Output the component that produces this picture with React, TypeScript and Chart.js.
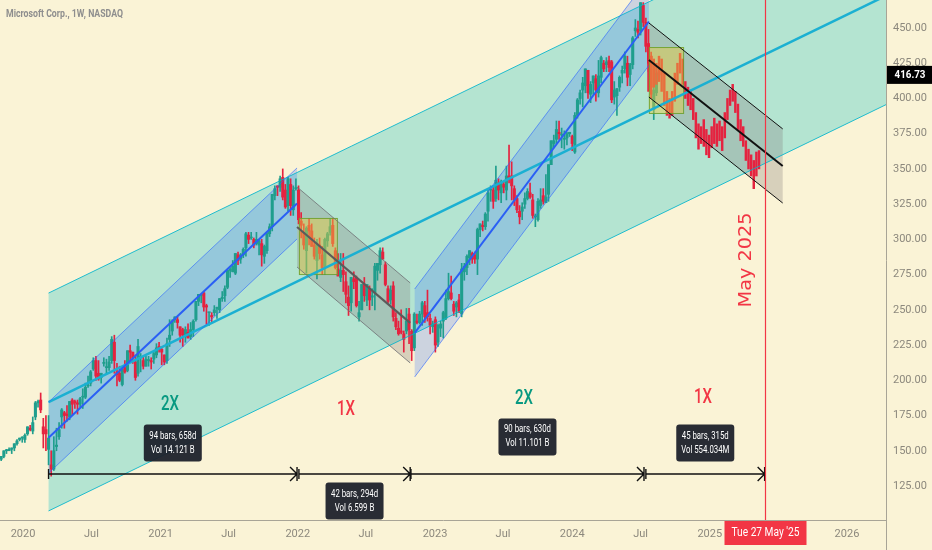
import React, { useEffect, useRef } from "react";
import { Chart, registerables } from "chart.js";
Chart.register(...registerables);

const DAY0 = Date.UTC(2020, 0, 1);
const day = (s: string) => (Date.parse(s + "T00:00:00Z") - DAY0) / 86400000;

// ---------------- data ----------------
const TITLE = "Microsoft Corp., 1W, NASDAQ";
const FIRST_WEEK = "2019-11-04";
// weekly [open, high, low, close]
const W2019 = [[144,146,143,146],[146,150,145,150],[150,151,148,150],[150,152,150,151],[151,152,148,152],[152,155,150,155],[155,158,154,157],[158,159,157,159],[159,160,156,159]];
const W2020 = [[158,162,156,161],[162,167,161,167],[166,168,164,165],[164,174,162,170],[174,185,172,184],[184,186,181,185],[186,191,177,179],[167,173,152,162],[165,175,150,162],[151,175,140,159],[140,150,132,137],[137,160,136,150],[153,166,150,154],[160,170,158,165],[174,180,166,179],[177,178,166,175],[176,182,171,175],[174,185,172,185],[186,187,175,183],[185,186,180,184],[184,186,176,183],[183,188,181,187],[188,194,180,188],[188,198,187,195],[196,203,195,196],[198,207,196,206],[208,216,207,214],[214,217,200,203],[205,214,200,201],[202,205,198,205],[212,216,210,212],[209,215,205,209],[209,217,207,213],[214,231,212,229],[227,232,205,214],[206,212,196,204],[205,210,199,200],[197,209,196,208],[209,214,205,206],[207,221,206,221],[221,225,214,220],[220,220,212,216],[213,218,200,202],[205,229,203,224],[216,219,206,217],[214,217,208,210],[210,217,210,215],[214,217,210,214],[214,216,208,213],[215,221,212,219],[218,226,216,223],[224,227,220,222]];
const W2021 = [[222,223,211,220],[218,218,211,213],[214,230,212,226],[229,243,224,232],[235,243,232,242],[243,245,241,245],[243,245,237,241],[238,238,227,232],[236,237,224,232],[231,238,227,236],[234,240,230,230],[231,241,229,236],[236,243,231,242],[243,256,242,256],[256,261,253,261],[260,261,255,261],[262,263,249,252],[253,254,240,252],[248,248,239,248],[246,248,241,245],[248,253,246,250],[251,252,244,251],[250,258,248,258],[258,263,256,259],[260,267,256,265],[266,278,265,278],[278,280,273,278],[277,285,277,281],[276,290,275,290],[289,291,282,285],[286,290,283,289],[289,294,287,293],[294,305,288,304],[303,305,297,300],[301,305,300,301],[300,301,294,296],[297,305,296,300],[296,300,289,299],[297,300,281,289],[288,296,283,295],[292,305,290,304],[304,311,302,309],[309,332,306,332],[331,338,328,336],[338,338,331,337],[337,345,334,343],[344,350,328,330],[335,339,322,323],[324,344,320,343],[339,343,317,324],[321,338,317,335],[336,343,335,336]];
const W2022 = [[335,338,311,314],[313,319,301,310],[305,311,293,296],[292,309,276,308],[310,315,296,306],[306,311,295,295],[296,301,286,288],[285,300,272,297],[296,301,286,290],[289,295,275,280],[281,301,275,300],[299,305,295,304],[305,315,303,309],[310,315,295,297],[292,294,279,280],[279,290,274,274],[273,290,270,278],[278,290,263,275],[270,277,255,261],[259,267,246,253],[255,273,249,273],[272,277,265,270],[273,274,252,253],[245,256,242,248],[250,268,250,268],[268,273,256,260],[257,268,253,268],[265,267,250,257],[259,265,253,260],[262,283,250,281],[278,283,271,283],[282,294,276,292],[291,294,286,286],[282,284,267,268],[265,267,255,256],[257,267,254,264],[267,270,242,245],[244,248,236,238],[237,242,232,233],[235,250,233,234],[233,235,220,229],[235,251,233,242],[247,251,226,236],[235,236,214,221],[223,248,221,247],[242,247,240,241],[241,249,240,247],[247,256,239,255],[253,256,241,245],[248,264,242,245],[244,247,233,239],[238,242,234,240]];
const W2023 = [[243,245,220,225],[227,240,224,239],[237,242,231,240],[242,249,230,248],[244,264,243,258],[258,276,257,263],[262,274,257,258],[254,256,246,249],[252,256,245,255],[257,261,248,249],[247,283,245,279],[277,283,271,281],[280,289,275,288],[287,292,282,292],[290,291,283,286],[289,291,283,286],[286,308,275,307],[307,311,302,311],[310,313,306,309],[309,319,307,318],[320,335,313,333],[335,338,327,335],[335,337,322,327],[329,352,327,342],[340,343,328,335],[333,342,326,341],[339,341,333,337],[335,352,328,345],[345,367,340,344],[345,355,328,338],[336,338,324,328],[329,331,319,321],[320,324,311,316],[320,326,314,323],[325,333,322,329],[329,336,328,334],[333,340,329,330],[328,332,315,317],[316,318,309,316],[314,329,313,327],[324,336,322,328],[331,336,325,327],[326,346,326,330],[332,353,327,353],[353,370,353,370],[368,374,365,370],[371,384,368,378],[376,384,371,375],[374,379,365,374],[371,377,364,371],[372,376,367,375],[375,376,373,376]];
const W2024 = [[373,374,363,368],[362,390,361,388],[388,400,386,399],[400,406,396,404],[406,415,394,411],[409,421,404,421],[420,420,400,404],[403,412,397,410],[411,416,403,416],[414,417,398,406],[404,427,401,416],[415,430,411,429],[425,427,419,421],[424,429,419,426],[427,430,419,422],[426,427,397,399],[401,412,396,406],[402,407,388,407],[408,416,405,415],[418,423,411,420],[421,433,418,430],[425,430,409,415],[417,425,409,424],[424,444,421,443],[448,456,444,450],[449,455,443,447],[448,468,445,468],[466,468,451,454],[454,457,433,437],[439,449,419,425],[430,433,400,408],[392,408,385,406],[404,421,402,418],[419,425,413,416.73]];
const LAST_PRICE = 416.73;

// projected bars pattern [low, high]
const PROJ_START = "2024-07-22";
const PROJ = [[405,432],[403,430],[408,428],[410,425],[412,430],[405,428],[395,418],[388,405],[386,400],[388,405],[398,418],[410,425],[418,432],[410,428],[400,412],[395,408],[392,406],[385,400],[372,390],[364,382],[368,380],[366,385],[360,378],[358,374],[365,380],[368,386],[366,382],[370,384],[363,380],[372,390],[385,400],[395,406],[398,410],[390,405],[378,396],[370,385],[366,380],[356,370],[350,364],[345,360],[336,356],[345,362],[350,363]];

const Y_TICKS = [125,150,175,200,225,250,275,300,325,350,375,400,425,450];
const X_TICKS = ["2020-01-01","2020-07-01","2021-01-01","2021-07-01","2022-01-01","2022-07-01","2023-01-01","2023-07-01","2024-01-01","2024-07-01","2025-01-01","2025-07-01","2026-01-01"];
const X_TICK_LABELS = ["2020","Jul","2021","Jul","2022","Jul","2023","Jul","2024","Jul","2025","Jul","2026"];

// channels: [startDate, midStart, endDate, midEnd, halfWidth]
const BIG_CHANNEL: [string, number, string, number, number] = ["2020-03-09", 184.6, "2027-01-01", 506.7, 77.3];
const BLUE_CHANNELS: [string, number, string, number, number][] = [["2020-03-09",159.3,"2021-12-30",325.5,25.2],["2022-11-08",233.6,"2024-07-23",454.6,31.2]];
const GRAY_CHANNELS: [string, number, string, number, number][] = [["2021-12-30",308.8,"2022-10-27",240.7,28.4],["2024-07-23",427.3,"2025-07-14",352.1,26.3]];
const YELLOW_BOXES: [string, number, string, number][] = [["2022-01-04",315.2,"2022-04-15",275.4],["2024-07-23",436.5,"2024-10-22",389.7]];

const RANGES = [["2020-03-09","2021-12-30"],["2022-01-04","2022-10-27"],["2022-10-29","2024-07-10"],["2024-07-15","2025-05-27"]];
const RANGE_PRICE = 133.5;
const RANGE_TEXT = [["94 bars, 658d","Vol 14.121 B"],["42 bars, 294d","Vol 6.599 B"],["90 bars, 630d","Vol 11.101 B"],["45 bars, 315d","Vol 554.034M"]];
const RANGE_BOX_PRICE = [155.5,114.3,159.8,155.5];

const MULT_LABELS = ["2X","1X","2X","1X"];
const MULT_DATES = ["2021-01-26","2022-05-09","2023-08-26","2024-12-14"];
const MULT_PRICES = [182.5,178.9,186.7,187.4];

const MARK_DATE = "2025-05-27";
const MARK_TEXT = "May 2025";
const MARK_TEXT_DATE = "2025-04-07";
const MARK_TEXT_PRICE = 285.4;
const DATE_LABEL = "Tue 27 May '25";

// ---------------- styles ----------------
const BG = "rgb(250,243,214)";
const UP = "#1f9e8d";
const DOWN = "#e5223f";
const GREEN_TXT = "#089981";
const RED_TXT = "#f23645";
const AXIS_TXT = "#8c887d";
const AXIS_LINE = "#a8a496";

function fitText(ctx: CanvasRenderingContext2D, text: string, x: number, y: number, font: string, targetW: number, color: string, align: "center" | "left" = "center", rot = 0) {
  ctx.save();
  ctx.font = font;
  const w = ctx.measureText(text).width;
  const s = targetW / w;
  ctx.translate(x, y);
  if (rot) ctx.rotate(rot);
  ctx.scale(s, 1);
  ctx.fillStyle = color;
  ctx.textAlign = align;
  ctx.textBaseline = "middle";
  ctx.fillText(text, 0, 0);
  ctx.restore();
}

const bars = [...W2019, ...W2020, ...W2021, ...W2022, ...W2023, ...W2024];
const t0 = day(FIRST_WEEK);
const candles = bars.map((b, i) => ({ t: t0 + 7 * i, o: b[0], h: b[1], l: b[2], c: b[3] }));
const p0 = day(PROJ_START);

const overlayPlugin = {
  id: "overlay",
  beforeDraw(chart: any) {
    const ctx = chart.ctx;
    ctx.save();
    ctx.fillStyle = BG;
    ctx.fillRect(0, 0, chart.width, chart.height);
    ctx.restore();
  },
  beforeDatasetsDraw(chart: any) {
    const ctx: CanvasRenderingContext2D = chart.ctx;
    const xs = chart.scales.x, ys = chart.scales.y;
    const X = (s: string) => xs.getPixelForValue(day(s));
    const Y = (p: number) => ys.getPixelForValue(p);
    const a = chart.chartArea;
    ctx.save();
    ctx.beginPath();
    ctx.rect(a.left, a.top, a.right - a.left, a.bottom - a.top);
    ctx.clip();
    const poly = (c: [string, number, string, number, number], fill: string) => {
      ctx.beginPath();
      ctx.moveTo(X(c[0]), Y(c[1] + c[4]));
      ctx.lineTo(X(c[2]), Y(c[3] + c[4]));
      ctx.lineTo(X(c[2]), Y(c[3] - c[4]));
      ctx.lineTo(X(c[0]), Y(c[1] - c[4]));
      ctx.closePath();
      ctx.fillStyle = fill;
      ctx.fill();
    };
    poly(BIG_CHANNEL, "rgba(20,195,200,0.3)");
    BLUE_CHANNELS.forEach((c) => poly(c, "rgba(41,98,255,0.22)"));
    GRAY_CHANNELS.forEach((c) => poly(c, "rgba(125,120,120,0.28)"));
    ctx.restore();
  },
  afterDatasetsDraw(chart: any) {
    const ctx: CanvasRenderingContext2D = chart.ctx;
    const xs = chart.scales.x, ys = chart.scales.y;
    const X = (s: string) => xs.getPixelForValue(day(s));
    const Y = (p: number) => ys.getPixelForValue(p);
    const a = chart.chartArea;
    ctx.save();
    ctx.beginPath();
    ctx.rect(a.left, a.top, a.right - a.left, a.bottom - a.top);
    ctx.clip();

    // yellow boxes
    YELLOW_BOXES.forEach((b) => {
      const x1 = X(b[0]), x2 = X(b[2]), y1 = Y(b[1]), y2 = Y(b[3]);
      ctx.fillStyle = "rgba(235,205,60,0.45)";
      ctx.fillRect(x1, y1, x2 - x1, y2 - y1);
      ctx.strokeStyle = "rgba(110,160,45,0.9)";
      ctx.lineWidth = 1;
      ctx.strokeRect(x1 + 0.5, y1 + 0.5, x2 - x1, y2 - y1);
    });

    const seg = (s1: string, p1: number, s2: string, p2: number, color: string, w: number) => {
      ctx.beginPath();
      ctx.moveTo(X(s1), Y(p1));
      ctx.lineTo(X(s2), Y(p2));
      ctx.strokeStyle = color;
      ctx.lineWidth = w;
      ctx.stroke();
    };
    const chLines = (c: [string, number, string, number, number], edge: string, ew: number, mid: string, mw: number) => {
      seg(c[0], c[1] + c[4], c[2], c[3] + c[4], edge, ew);
      seg(c[0], c[1] - c[4], c[2], c[3] - c[4], edge, ew);
      seg(c[0], c[1], c[2], c[3], mid, mw);
    };
    chLines(BIG_CHANNEL, "rgba(0,180,205,0.85)", 1, "#1bb0d2", 2.5);
    BLUE_CHANNELS.forEach((c) => chLines(c, "rgba(41,98,255,0.6)", 1, "#2a5ff5", 2));
    chLines(GRAY_CHANNELS[0], "rgba(110,110,115,0.8)", 1, "#5b5b5b", 2.2);
    chLines(GRAY_CHANNELS[1], "#111111", 1, "#111111", 2);

    // date ranges
    ctx.strokeStyle = "#111";
    ctx.lineWidth = 1.4;
    const ry = Y(RANGE_PRICE);
    RANGES.forEach((r) => {
      const x1 = X(r[0]), x2 = X(r[1]);
      ctx.beginPath();
      ctx.moveTo(x1, ry); ctx.lineTo(x2, ry);
      ctx.moveTo(x1, ry - 5); ctx.lineTo(x1, ry + 5);
      ctx.moveTo(x2, ry - 7); ctx.lineTo(x2, ry + 7);
      ctx.moveTo(x2 - 7, ry - 7); ctx.lineTo(x2, ry); ctx.lineTo(x2 - 7, ry + 7);
      ctx.stroke();
    });
    RANGES.forEach((r, i) => {
      const cx = (X(r[0]) + X(r[1])) / 2;
      const cy = Y(RANGE_BOX_PRICE[i]);
      const w = 58, h = 37;
      ctx.beginPath();
      (ctx as any).roundRect(cx - w / 2, cy - h / 2, w, h, 3);
      ctx.fillStyle = "rgba(30,33,43,0.95)";
      ctx.fill();
      ctx.font = "10px Roboto";
      const s = 47 / ctx.measureText(RANGE_TEXT[i][0]).width;
      [0, 1].forEach((k) => {
        ctx.save();
        ctx.translate(cx, cy + (k === 0 ? -7 : 7));
        ctx.scale(s, 1);
        ctx.fillStyle = "#ffffff";
        ctx.textAlign = "center";
        ctx.textBaseline = "middle";
        ctx.font = "10px Roboto";
        ctx.fillText(RANGE_TEXT[i][k], 0, 0);
        ctx.restore();
      });
    });

    // 2X / 1X
    MULT_LABELS.forEach((t, i) => {
      fitText(ctx, t, X(MULT_DATES[i]), Y(MULT_PRICES[i]), "500 21px Roboto", 18, t === "2X" ? GREEN_TXT : RED_TXT);
    });

    // May 2025 text
    fitText(ctx, MARK_TEXT, X(MARK_TEXT_DATE), Y(MARK_TEXT_PRICE), '18px "DejaVu Sans"', 95, RED_TXT, "center", -Math.PI / 2);
    ctx.restore();
  },
  afterDraw(chart: any) {
    const ctx: CanvasRenderingContext2D = chart.ctx;
    const xs = chart.scales.x, ys = chart.scales.y;
    const a = chart.chartArea;
    ctx.save();
    // separator extension
    ctx.strokeStyle = AXIS_LINE;
    ctx.lineWidth = 1;
    ctx.beginPath();
    ctx.moveTo(a.right + 0.5, a.bottom);
    ctx.lineTo(a.right + 0.5, chart.height);
    ctx.stroke();
    // vertical marker
    const mx = Math.round(xs.getPixelForValue(day(MARK_DATE))) + 0.5;
    ctx.strokeStyle = RED_TXT;
    ctx.lineWidth = 1.2;
    ctx.beginPath();
    ctx.moveTo(mx, a.top);
    ctx.lineTo(mx, a.bottom);
    ctx.stroke();
    // date label
    ctx.fillStyle = RED_TXT;
    ctx.fillRect(mx - 41, a.bottom + 1, 82, 24);
    fitText(ctx, DATE_LABEL, mx, a.bottom + 13, "12px Roboto", 68, "#ffffff");
    // last price label
    const py = ys.getPixelForValue(LAST_PRICE);
    ctx.fillStyle = "#000000";
    ctx.fillRect(a.right + 1, py - 9, chart.width - a.right - 1, 18);
    fitText(ctx, LAST_PRICE.toFixed(2), a.right + 24, py, "bold 11px Roboto", 31, "#ffffff");
    // title
    fitText(ctx, TITLE, 6, 14, "bold 11px Roboto", 117, "#8e8e8e", "left");
    ctx.restore();
  },
};

export default function App() {
  const ref = useRef<HTMLCanvasElement>(null);
  useEffect(() => {
    if (!ref.current) return;
    const chart = new Chart(ref.current, {
      type: "bar",
      data: {
        datasets: [
          {
            label: "wicks",
            data: candles.map((k) => ({ x: k.t, y: [k.l, k.h] })) as any,
            backgroundColor: candles.map((k) => (k.c >= k.o ? UP : DOWN)),
            barThickness: 1,
            grouped: false,
            borderWidth: 0,
            order: 3,
          } as any,
          {
            label: "bodies",
            data: candles.map((k) => ({ x: k.t, y: [Math.min(k.o, k.c), Math.max(k.o, k.c)] })) as any,
            backgroundColor: candles.map((k) => (k.c >= k.o ? UP : DOWN)),
            barThickness: 2.4,
            minBarLength: 1,
            grouped: false,
            borderWidth: 0,
            order: 2,
          } as any,
          {
            label: "pattern",
            data: PROJ.map((p, i) => ({ x: p0 + 7 * i, y: [p[0], p[1]] })) as any,
            backgroundColor: DOWN,
            barThickness: 1.8,
            grouped: false,
            borderWidth: 0,
            order: 1,
          } as any,
        ],
      },
      options: {
        animation: false,
        responsive: false,
        maintainAspectRatio: false,
        layout: { padding: 0 },
        plugins: { legend: { display: false }, tooltip: { enabled: false }, title: { display: false } },
        scales: {
          x: {
            type: "linear",
            offset: false,
            min: -61.18,
            max: 2295.8,
            grid: { display: false, drawTicks: false, offset: false },
            border: { display: true, color: AXIS_LINE, width: 1 },
            afterBuildTicks: (s: any) => { s.ticks = X_TICKS.map((t) => ({ value: day(t) })); },
            afterFit: (s: any) => { s.height = 30; s.paddingLeft = 0; s.paddingRight = 0; },
            ticks: {
              autoSkip: false,
              maxRotation: 0,
              padding: 8,
              color: AXIS_TXT,
              font: { family: "Roboto", size: 11 },
              callback: (_v: any, i: number) => X_TICK_LABELS[i],
            },
          },
          y: {
            type: "linear",
            position: "right",
            min: 100.87,
            max: 469.87,
            grid: { display: false, drawTicks: false },
            border: { display: true, color: AXIS_LINE, width: 1 },
            afterBuildTicks: (s: any) => { s.ticks = Y_TICKS.map((v) => ({ value: v })); },
            afterFit: (s: any) => { s.width = 46; s.paddingTop = 0; s.paddingBottom = 0; },
            ticks: {
              autoSkip: false,
              padding: 7,
              color: AXIS_TXT,
              font: { family: "Roboto", size: 11 },
              callback: (v: any) => Number(v).toFixed(2),
            },
          },
        },
      } as any,
      plugins: [overlayPlugin],
    });
    return () => chart.destroy();
  }, []);
  return (
    <div style={{ position: "absolute", left: 0, top: 0, width: 932, height: 550 }}>
      <canvas ref={ref} width={932} height={550} style={{ display: "block", width: 932, height: 550 }} />
    </div>
  );
}
